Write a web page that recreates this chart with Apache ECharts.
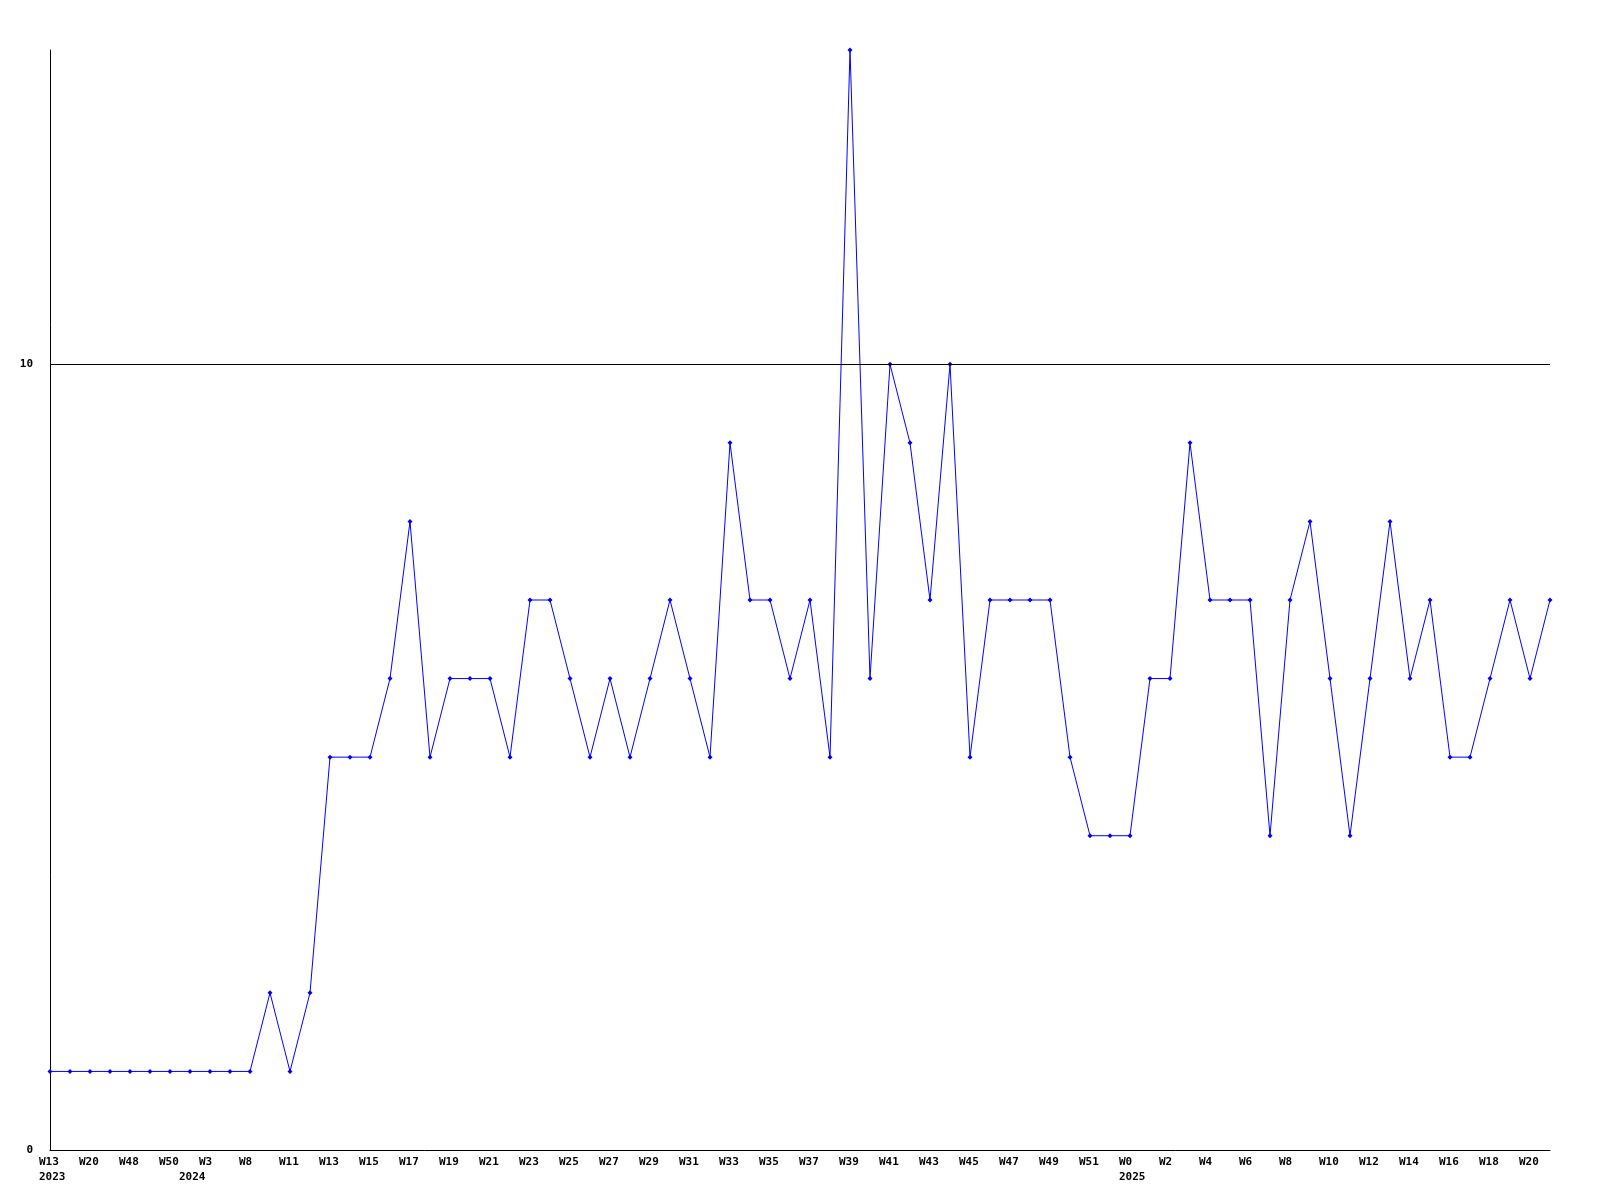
<!DOCTYPE html>
<html>
<head>
<meta charset="utf-8">
<script src="https://cdn.jsdelivr.net/npm/echarts@6/dist/echarts.min.js"></script>
<style>
html,body{margin:0;padding:0;background:#fff;}
#chart{width:1600px;height:1200px;}
</style>
</head>
<body>
<div id="chart"></div>
<script>
const weeks = [
  'W13','W16','W20','W44','W48','W49','W50','W1','W3','W5','W8','W10',
  'W11','W12','W13','W14','W15','W16','W17','W18','W19','W20','W21','W22','W23','W24',
  'W25','W26','W27','W28','W29','W30','W31','W32','W33','W34','W35','W36','W37','W38',
  'W39','W40','W41','W42','W43','W44','W45','W46','W47','W48','W49','W50','W51','W52',
  'W0','W1','W2','W3','W4','W5','W6','W7','W8','W9','W10','W11','W12','W13',
  'W14','W15','W16','W17','W18','W19','W20','W21'
];
const yearIndex = [0, 7, 54];
const yearText = ['2023', '2024', '2025'];
const counts = [
  1,1,1,1,1,1,1,1,1,1,1,2,
  1,2,5,5,5,6,8,5,6,6,6,5,7,7,
  6,5,6,5,6,7,6,5,9,7,7,6,7,5,
  14,6,10,9,7,10,5,7,7,7,7,5,4,4,
  4,6,6,9,7,7,7,4,7,8,6,4,6,8,
  6,7,5,5,6,7,6,7
];
const yTicks = [0, 10];
const refLine = 10;

const chart = echarts.init(document.getElementById('chart'), null, {renderer:'canvas'});
const font = '"DejaVu Sans Mono", monospace';
const showLabel = (i) => i % 2 === 0 || yearIndex.includes(i);
chart.setOption({
  animation: false,
  backgroundColor: '#ffffff',
  grid: {left: 50, right: 50, top: 50, bottom: 50, containLabel: false},
  xAxis: {
    type: 'category',
    data: weeks,
    boundaryGap: false,
    axisLine: {show: true, lineStyle: {color: '#000', width: 1}},
    axisTick: {show: false},
    splitLine: {show: false},
    axisLabel: {
      interval: (i) => showLabel(i),
      hideOverlap: false,
      color: '#000',
      fontFamily: font,
      fontWeight: 'bold',
      fontSize: 11,
      margin: 5,
      verticalAlign: 'top',
      formatter: (v, i) => {
        const top = i % 2 === 0 ? v : ' ';
        const yi = yearIndex.indexOf(i);
        let s = '{a|' + top + '}';
        if (yi >= 0) s += '\n{a|' + yearText[yi] + '}';
        return s;
      },
      rich: {
        a: {width: 22, align: 'left', fontFamily: font, fontWeight: 'bold', fontSize: 11, lineHeight: 15, color: '#000'}
      }
    }
  },
  yAxis: {
    type: 'value',
    min: 0,
    max: 14,
    interval: 10,
    axisLine: {show: true, lineStyle: {color: '#000', width: 1}},
    axisTick: {show: false},
    splitLine: {show: false},
    axisLabel: {
      color: '#000',
      fontFamily: font,
      fontWeight: 'bold',
      fontSize: 11,
      margin: 17,
      formatter: v => yTicks.includes(v) ? String(v) : ''
    }
  },
  series: [{
    type: 'line',
    data: counts,
    symbol: 'diamond',
    symbolSize: 5,
    showAllSymbol: true,
    itemStyle: {color: '#0000ff'},
    lineStyle: {color: '#0000ff', width: 1},
    markLine: {
      silent: true,
      symbol: ['none','none'],
      label: {show: false},
      lineStyle: {color: '#000', width: 1, type: 'solid'},
      data: [{yAxis: refLine}]
    }
  }]
});
</script>
</body>
</html>
